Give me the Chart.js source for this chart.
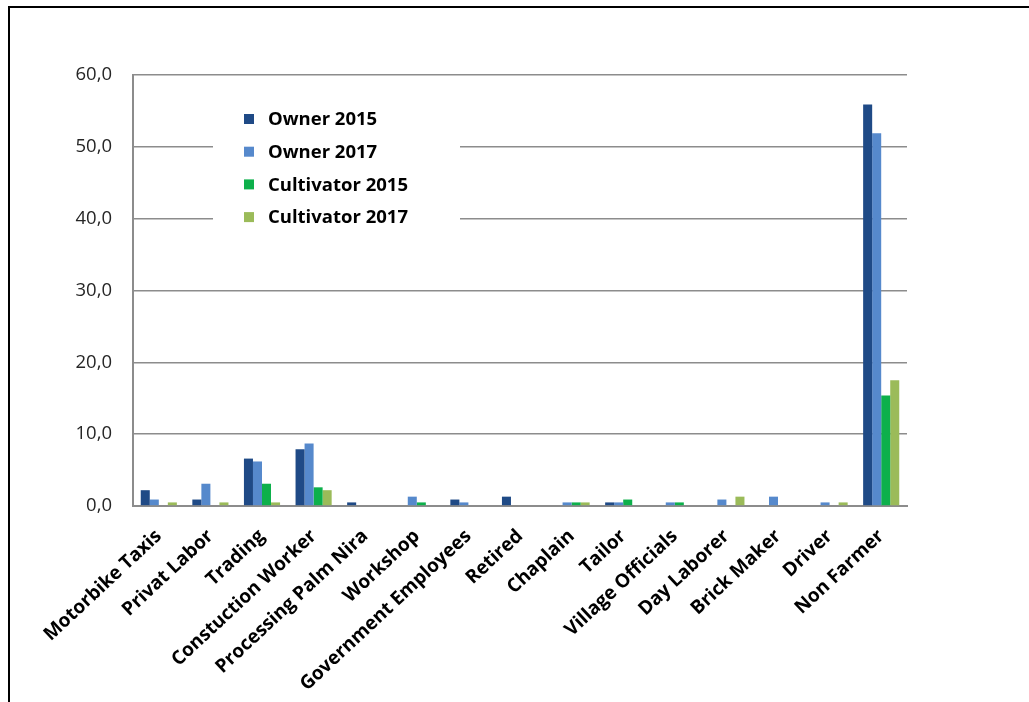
<!DOCTYPE html>
<html>
<head>
<meta charset="utf-8">
<script src="https://cdn.jsdelivr.net/npm/chart.js@4/dist/chart.umd.min.js"></script>
<style>
  html, body { margin: 0; padding: 0; background: #fff; overflow: hidden; }
  #wrap { position: relative; width: 1029px; height: 702px; }
  #frame { position: absolute; left: 8px; top: 6px; width: 1100px; height: 800px; border: 2px solid #000; }
  #chartCanvas { position: absolute; left: 0; top: 0; }
</style>
</head>
<body>
<div id="wrap">
  <div id="frame"></div>
  <canvas id="chartCanvas" width="1029" height="702"></canvas>
</div>
<script>
// categories and series
var categories = ['Motorbike Taxis', 'Privat Labor', 'Trading', 'Constuction Worker', 'Processing Palm Nira',
  'Workshop', 'Government Employees', 'Retired', 'Chaplain', 'Tailor', 'Village Officials',
  'Day Laborer', 'Brick Maker', 'Driver', 'Non Farmer'];
var owner2015 = [2.2, 0.9, 6.6, 7.9, 0.5, 0, 0.9, 1.3, 0, 0.5, 0, 0, 0, 0, 55.9];
var owner2017 = [0.9, 3.1, 6.2, 8.7, 0, 1.3, 0.5, 0, 0.5, 0.5, 0.5, 0.9, 1.3, 0.5, 51.9];
var cultivator2015 = [0, 0, 3.1, 2.6, 0, 0.5, 0, 0, 0.5, 0.9, 0.5, 0, 0, 0, 15.4];
var cultivator2017 = [0.5, 0.5, 0.5, 2.2, 0, 0, 0, 0, 0.5, 0, 0, 1.3, 0, 0.5, 17.5];
var yTicks = [0, 10, 20, 30, 40, 50, 60];

var gridColor = '#8c8c8c';
var fontFamily = '"Open Sans", "Liberation Sans", Arial, sans-serif';

// legend drawn inside the plot, on a white box that hides the grid lines behind it
var insideLegend = {
  id: 'insideLegend',
  afterDraw: function (chart) {
    var ctx = chart.ctx;
    ctx.save();
    ctx.fillStyle = '#fff';
    ctx.fillRect(213, 96, 247, 134);
    ctx.font = 'bold 18.5px ' + fontFamily;
    ctx.textBaseline = 'middle';
    chart.data.datasets.forEach(function (ds, i) {
      var y = 119 + i * 32.7;
      ctx.fillStyle = ds.backgroundColor;
      ctx.fillRect(244, y - 5, 10, 10);
      ctx.fillStyle = '#000';
      ctx.fillText(ds.label, 268, y + 1);
    });
    ctx.restore();
  }
};

var canvas = document.getElementById('chartCanvas');
var chart = new Chart(canvas, {
  type: 'bar',
  data: {
    labels: categories,
    datasets: [
      { label: 'Owner 2015', data: owner2015, backgroundColor: '#1f4a86' },
      { label: 'Owner 2017', data: owner2017, backgroundColor: '#5689cc' },
      { label: 'Cultivator 2015', data: cultivator2015, backgroundColor: '#0db04b' },
      { label: 'Cultivator 2017', data: cultivator2017, backgroundColor: '#9bbb59' }
    ]
  },
  options: {
    responsive: false,
    animation: false,
    layout: { padding: { top: 75, right: 122, bottom: 0, left: 0 } },
    datasets: { bar: { categoryPercentage: 0.7, barPercentage: 1.0 } },
    plugins: { legend: { display: false }, tooltip: { enabled: false } },
    scales: {
      x: {
        afterFit: function (scale) { scale.height = 196; },
        grid: { display: false, drawTicks: false },
        border: { display: true, color: gridColor, width: 2 },
        ticks: {
          autoSkip: false,
          minRotation: 43,
          maxRotation: 43,
          padding: 19,
          color: '#000',
          font: { family: fontFamily, size: 19, weight: 'bold' }
        }
      },
      y: {
        min: 0,
        max: 60,
        afterFit: function (scale) { scale.width = 133; },
        afterBuildTicks: function (scale) {
          scale.ticks = yTicks.map(function (v) { return { value: v }; });
        },
        grid: { color: gridColor, lineWidth: 1.6, drawTicks: false },
        border: { display: true, color: gridColor, width: 2 },
        ticks: {
          padding: 21,
          color: '#262626',
          font: { family: fontFamily, size: 18.5 },
          callback: function (v) { return v.toFixed(1).replace('.', ','); }
        }
      }
    }
  },
  plugins: [insideLegend]
});
</script>
</body>
</html>
